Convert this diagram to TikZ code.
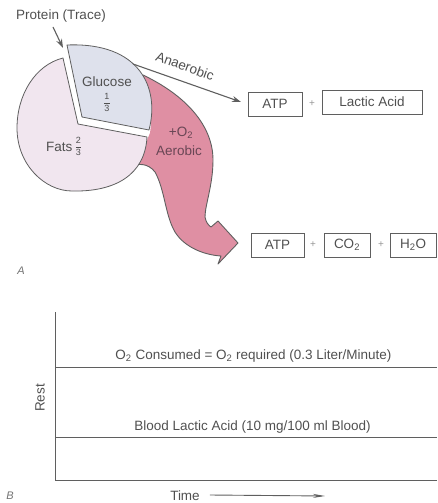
\documentclass[tikz,border=0pt]{standalone}
\usepackage{fontspec}
\setmainfont{Liberation Sans}
\usetikzlibrary{arrows.meta}
\definecolor{ink}{RGB}{95,95,95}
\definecolor{txt}{RGB}{80,80,80}
\definecolor{glu}{RGB}{222,225,236}
\definecolor{fat}{RGB}{241,230,239}
\definecolor{aer}{RGB}{223,143,163}
\definecolor{aertxt}{RGB}{105,70,85}
\begin{document}
\begin{tikzpicture}[x=1pt,y=-1pt,
  lbl/.style={font=\fontsize{13.5}{15}\selectfont, text=txt, inner sep=0pt},
  fracl/.style={font=\fontsize{9}{9}\selectfont, text=txt, inner sep=0pt},
  prod/.style={draw=ink, line width=0.8pt, minimum height=24pt, inner sep=0pt,
    font=\fontsize{13.5}{15}\selectfont, text=txt},
  plus/.style={font=\fontsize{10}{10}\selectfont, text=txt!60, inner sep=0pt},
  conn/.style={draw=ink, line width=1.1pt, -{Stealth[length=9pt,width=6pt]}},
  axisline/.style={draw=ink, line width=0.8pt},
  panel/.style={font=\fontsize{11}{11}\selectfont\itshape, text=txt!80, inner sep=0pt}]

\useasboundingbox (0,0) rectangle (437,503);

% ---------- aerobic arrow ----------
\fill[aer] (143,75) .. controls (185,95) and (213,125) .. (213,160)
  .. controls (213,185) and (205,205) .. (205,217)
  .. controls (206,222) and (208,225) .. (211,227)
  -- (218,221) -- (238,243) -- (218,264) -- (221,256)
  .. controls (205,255) and (185,248) .. (175,232)
  .. controls (165,215) and (165,190) .. (155,172)
  .. controls (148,163) and (138,163) .. (130,167)
  -- (145,145) -- (150,133) -- (151,125) -- (146,100) -- (136,76) -- cycle;
\draw[ink, line width=0.9pt, line join=round]
  (143,75) .. controls (185,95) and (213,125) .. (213,160)
  .. controls (213,185) and (205,205) .. (205,217)
  .. controls (206,222) and (208,225) .. (211,227)
  -- (218,221) -- (238,243) -- (218,264) -- (221,256)
  .. controls (205,255) and (185,248) .. (175,232)
  .. controls (165,215) and (165,190) .. (155,172)
  .. controls (148,163) and (138,163) .. (130,167);

% ---------- pie ----------
\filldraw[fill=fat, draw=ink, line width=0.8pt, line join=round]
  (78,124) -- (63,58) .. controls (35,65) and (17,95) .. (17,128)
  .. controls (17,165) and (45,191) .. (72,191)
  .. controls (115,192) and (145,175) .. (147,137) -- cycle;
\filldraw[fill=glu, draw=ink, line width=0.8pt, line join=round]
  (82,117) -- (67,45) .. controls (140,42) and (160,88) .. (149,130) -- cycle;

\node[lbl] (glucose) at (107,82) {Glucose};
\node[fracl] (gfrac) at (107,102.5) {$\displaystyle\frac{\mbox{1}}{\mbox{3}}$};
\node[lbl, anchor=east] (fats) at (72.5,147) {Fats};
\node[fracl] (ffrac) at (78.5,146.5) {$\displaystyle\frac{\mbox{2}}{\mbox{3}}$};
\node[lbl, text=aertxt] (o2in) at (181,133) {+O\textsubscript{2}};
\node[lbl, text=aertxt] (aerobic) at (179,151) {Aerobic};

% ---------- protein ----------
\node[lbl] (protein) at (61,16) {Protein (Trace)};
\coordinate (protS) at (53,27);
\coordinate (protE) at (63,48);
\draw[conn] (protS) -- (protE);

% ---------- products ----------
\node[prod, minimum width=54pt] (atpA) at (275,104) {ATP};
\node[plus] (p1) at (312,104) {+};
\node[prod, minimum width=100pt] (lactic) at (372,102) {Lactic Acid};

\node[prod, minimum width=53pt] (atpB) at (277.5,245) {ATP};
\node[plus] (p2) at (313,245) {+};
\node[prod, minimum width=46pt] (co2) at (347,245) {CO\textsubscript{2}};
\node[plus] (p3) at (381,245) {+};
\node[prod, minimum width=46pt] (h2o) at (413,245) {H\textsubscript{2}O};

% ---------- anaerobic ----------
\coordinate (anS) at (133,64);
\coordinate (anE) at (241,102);
\draw[conn] (anS) -- (anE);
\node[lbl, rotate=-20] (anaerobic) at (185,66) {Anaerobic};

\node[panel] (labA) at (21,271) {A};

% ---------- part B ----------
\coordinate (ytop) at (55,312);
\coordinate (orig) at (55,480);
\coordinate (xend) at (437,480);
\coordinate (l1a) at (55,367);
\coordinate (l1b) at (437,367);
\coordinate (l2a) at (55,437);
\coordinate (l2b) at (437,437);
\draw[axisline] (ytop) -- (orig) -- (xend);
\draw[axisline] (l1a) -- (l1b);
\draw[axisline] (l2a) -- (l2b);

\node[lbl] (o2lbl) at (253.5,356) {O\textsubscript{2} Consumed = O\textsubscript{2} required (0.3 Liter/Minute)};
\node[lbl] (bla) at (252.5,427) {Blood Lactic Acid (10 mg/100 ml Blood)};
\node[lbl, rotate=90] (rest) at (40,398) {Rest};
\node[lbl] (time) at (185,495.5) {Time};
\coordinate (timeE) at (325,496);
\draw[draw=ink, line width=0.9pt, -{Stealth[length=12pt,width=4pt]}] ([xshift=10pt,yshift=0.5pt]time.east) -- (timeE);
\node[panel] (labB) at (10,496) {B};
\end{tikzpicture}
\end{document}
